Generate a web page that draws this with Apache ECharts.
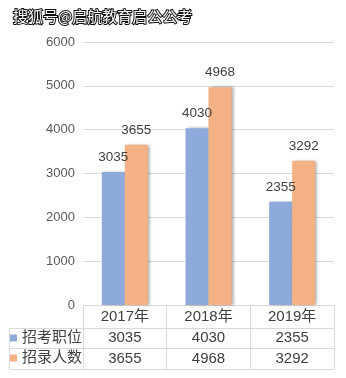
<!DOCTYPE html>
<html><head><meta charset="utf-8">
<script src="https://cdn.jsdelivr.net/npm/echarts@6/dist/echarts.min.js"></script>
<style>html,body{margin:0;padding:0;background:#fff}#c{width:346px;height:378px}</style>
</head><body><div id="c"></div>
<script>
var categories = ['2017年', '2018年', '2019年'];
var seriesNames = ['招考职位', '招录人数'];
var positions = [3035, 4030, 2355];
var recruits = [3655, 4968, 3292];
var yTicks = [0, 1000, 2000, 3000, 4000, 5000, 6000];

var chart = echarts.init(document.getElementById('c'), null, {renderer: 'canvas'});
var txt = '#404040';
var line = '#d9d9d9';
var font = '"Liberation Sans", Arial, "Noto Sans CJK SC", sans-serif';
var barShadow = {shadowColor: 'rgba(0,0,0,0.35)', shadowBlur: 3, shadowOffsetX: 2, shadowOffsetY: 0};

chart.setOption({
  backgroundColor: '#fff',
  animation: false,
  textStyle: {fontFamily: font},
  grid: {left: 83, right: 12, top: 42, bottom: 73},
  legend: {
    orient: 'vertical', left: 10, top: 328, padding: 0, itemGap: 0,
    itemWidth: 7, itemHeight: 7, icon: 'rect',
    itemStyle: {shadowBlur: 0, shadowOffsetX: 0},
    textStyle: {fontSize: 15, color: txt, lineHeight: 20, fontFamily: font},
    selectedMode: false,
    data: seriesNames
  },
  graphic: [
    {type: 'text', left: 12, top: 8, style: {text: '搜狐号@启航教育启公公考', fontSize: 15, fontWeight: 'normal', fill: '#fff', stroke: '#111', lineWidth: 2, fontFamily: '"Noto Sans CJK SC", sans-serif'}, z: 100},
    {type: 'line', shape: {x1: 9, y1: 328.5, x2: 334, y2: 328.5}, style: {stroke: line, lineWidth: 1}},
    {type: 'line', shape: {x1: 9, y1: 348.5, x2: 334, y2: 348.5}, style: {stroke: line, lineWidth: 1}},
    {type: 'line', shape: {x1: 9, y1: 369.5, x2: 334, y2: 369.5}, style: {stroke: line, lineWidth: 1}},
    {type: 'line', shape: {x1: 9.5, y1: 328, x2: 9.5, y2: 369.5}, style: {stroke: line, lineWidth: 1}}
  ],
  xAxis: {
    type: 'category', data: categories,
    axisLine: {show: true, lineStyle: {color: line, width: 1}},
    axisTick: {show: true, alignWithLabel: false, length: 64, lineStyle: {color: line}},
    axisLabel: {
      margin: 1, interval: 0,
      formatter: function (v, i) {
        return '{c|' + v + '}\n{v|' + positions[i] + '}\n{v|' + recruits[i] + '}';
      },
      rich: {
        c: {fontSize: 15, color: txt, lineHeight: 21, fontFamily: font},
        v: {fontSize: 15, color: txt, lineHeight: 21, fontFamily: font}
      }
    }
  },
  yAxis: {
    type: 'value', min: yTicks[0], max: yTicks[yTicks.length - 1], interval: 1000,
    axisLine: {show: false}, axisTick: {show: false},
    splitLine: {lineStyle: {color: line, width: 1}},
    axisLabel: {fontSize: 13, color: '#595959', margin: 8, fontFamily: font,
      formatter: function (v) { return String(v); }}
  },
  series: [
    {name: seriesNames[0], type: 'bar', data: positions, barWidth: 23, barGap: '0%',
     itemStyle: Object.assign({color: '#8eaadb'}, barShadow),
     label: {show: true, position: 'top', distance: 8, fontSize: 13.5, color: txt, fontFamily: font}},
    {name: seriesNames[1], type: 'bar', data: recruits, barWidth: 23,
     itemStyle: Object.assign({color: '#f4b183'}, barShadow),
     label: {show: true, position: 'top', distance: 8, fontSize: 13.5, color: txt, fontFamily: font}}
  ]
});
</script></body></html>
